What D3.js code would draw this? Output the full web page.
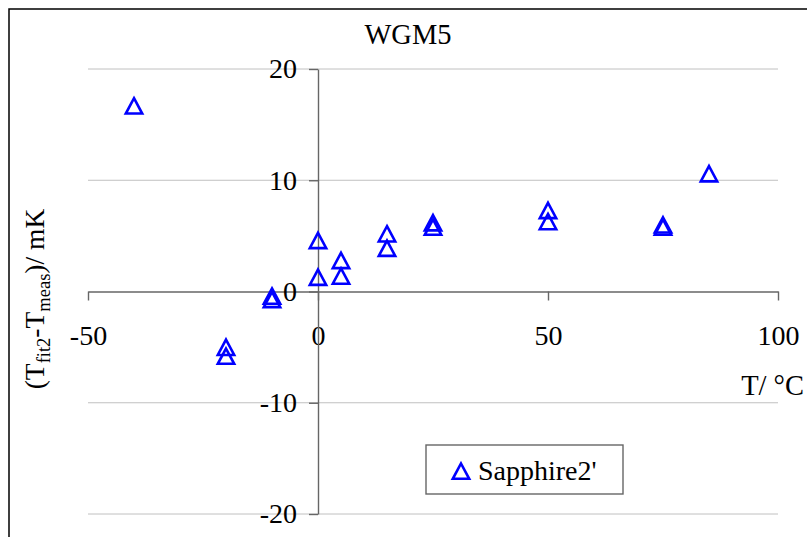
<!DOCTYPE html>
<html>
<head>
<meta charset="utf-8">
<script src="https://cdn.jsdelivr.net/npm/d3@7"></script>
<style>
  html, body { margin: 0; padding: 0; background: #fff; }
  svg { display: block; }
  svg text { font-family: "Liberation Serif", "Times New Roman", Times, "DejaVu Serif", serif !important; fill: #000; }
</style>
</head>
<body>
<svg id="chart" width="807" height="537"></svg>
<script>
// ---- data ----
const chartTitle = "WGM5";
const seriesName = "Sapphire2'";
const tempValues = [-40, -20, -20, -10, -10, 0, 0, 5, 5, 15, 15, 25, 25, 50, 50, 75, 75, 85];
const deltaValues = [16.7, -5.0, -5.8, -0.4, -0.7, 4.6, 1.3, 2.8, 1.4, 5.2, 3.9, 6.2, 5.8, 7.3, 6.3, 6.0, 5.8, 10.6];
const xTicks = [-50, 0, 50, 100];
const yTicks = [-20, -10, 0, 10, 20];
const xDomain = [-50, 100];
const yDomain = [-20, 20];

// ---- layout ----
const FONT = '"Liberation Serif", "Times New Roman", Times, serif';
const svg = d3.select("#chart").attr("font-family", FONT);
const fontSize = 28;
const x = d3.scaleLinear().domain(xDomain).range([88, 778]);
const y = d3.scaleLinear().domain(yDomain).range([514, 69]);
const fmt = d => String(d);

// outer frame
svg.append("rect")
  .attr("x", 9).attr("y", 9).attr("width", 820).attr("height", 560)
  .attr("fill", "#fff").attr("stroke", "#000").attr("stroke-width", 1.5);

// gridlines
svg.append("g").selectAll("line")
  .data(yTicks.filter(d => d !== 0))
  .join("line")
  .attr("x1", x(xDomain[0])).attr("x2", x(xDomain[1]))
  .attr("y1", d => y(d)).attr("y2", d => y(d))
  .attr("stroke", "#c0c0c0").attr("stroke-width", 1);

// x axis (through y=0)
const xAxis = d3.axisBottom(x).tickValues(xTicks).tickSize(9).tickSizeOuter(0).tickPadding(25).tickFormat(fmt);
const gx = svg.append("g").attr("transform", `translate(0,${y(0)})`).call(xAxis)
  .attr("font-family", FONT).attr("font-size", fontSize);
gx.select(".domain").attr("stroke", "#666").attr("stroke-width", 1.4);
gx.selectAll(".tick line").attr("stroke", "#666").attr("stroke-width", 1.4);
gx.selectAll(".tick text").attr("fill", "#000");

// y axis (through x=0)
const yAxis = d3.axisLeft(y).tickValues(yTicks).tickSize(9).tickSizeOuter(0).tickPadding(12).tickFormat(fmt);
const gy = svg.append("g").attr("transform", `translate(${x(0)},0)`).call(yAxis)
  .attr("font-family", FONT).attr("font-size", fontSize);
gy.select(".domain").attr("stroke", "#666").attr("stroke-width", 1.4);
gy.selectAll(".tick line").attr("stroke", "#666").attr("stroke-width", 1.4);
gy.selectAll(".tick text").attr("fill", "#000");

// title
svg.append("text").attr("x", 408).attr("y", 44).attr("text-anchor", "middle")
  .attr("font-size", 28.5).text(chartTitle);

// x axis title
svg.append("text").attr("x", 804).attr("y", 395).attr("text-anchor", "end")
  .attr("font-size", 28.5).text("T/ °C");

// y axis title
const yl = svg.append("text").attr("transform", "translate(44,299) rotate(-90)")
  .attr("text-anchor", "middle").attr("font-size", 27.5);
yl.append("tspan").text("(T");
yl.append("tspan").attr("font-size", 18.5).attr("dy", 6).text("fit2");
yl.append("tspan").attr("dy", -6).text("-T");
yl.append("tspan").attr("font-size", 18.5).attr("dy", 6).text("meas");
yl.append("tspan").attr("dy", -6).text(")/ mK");

// triangle marker
const tri = "M0,-7.5L8.2,7.8L-8.2,7.8Z";

svg.append("g").selectAll("path")
  .data(tempValues.map((t, i) => [t, deltaValues[i]]))
  .join("path")
  .attr("d", tri)
  .attr("transform", d => `translate(${x(d[0])},${y(d[1])})`)
  .attr("fill", "none").attr("stroke", "#0000ff").attr("stroke-width", 2.6)
  .attr("stroke-linejoin", "miter");

// legend
const lg = svg.append("g");
lg.append("rect").attr("x", 426).attr("y", 445).attr("width", 197).attr("height", 49)
  .attr("fill", "#fff").attr("stroke", "#666").attr("stroke-width", 1.4);
lg.append("path").attr("d", tri).attr("transform", "translate(461,471)")
  .attr("fill", "none").attr("stroke", "#0000ff").attr("stroke-width", 2.6);
lg.append("text").attr("x", 478).attr("y", 480).attr("font-size", 28).text(seriesName);
</script>
</body>
</html>
